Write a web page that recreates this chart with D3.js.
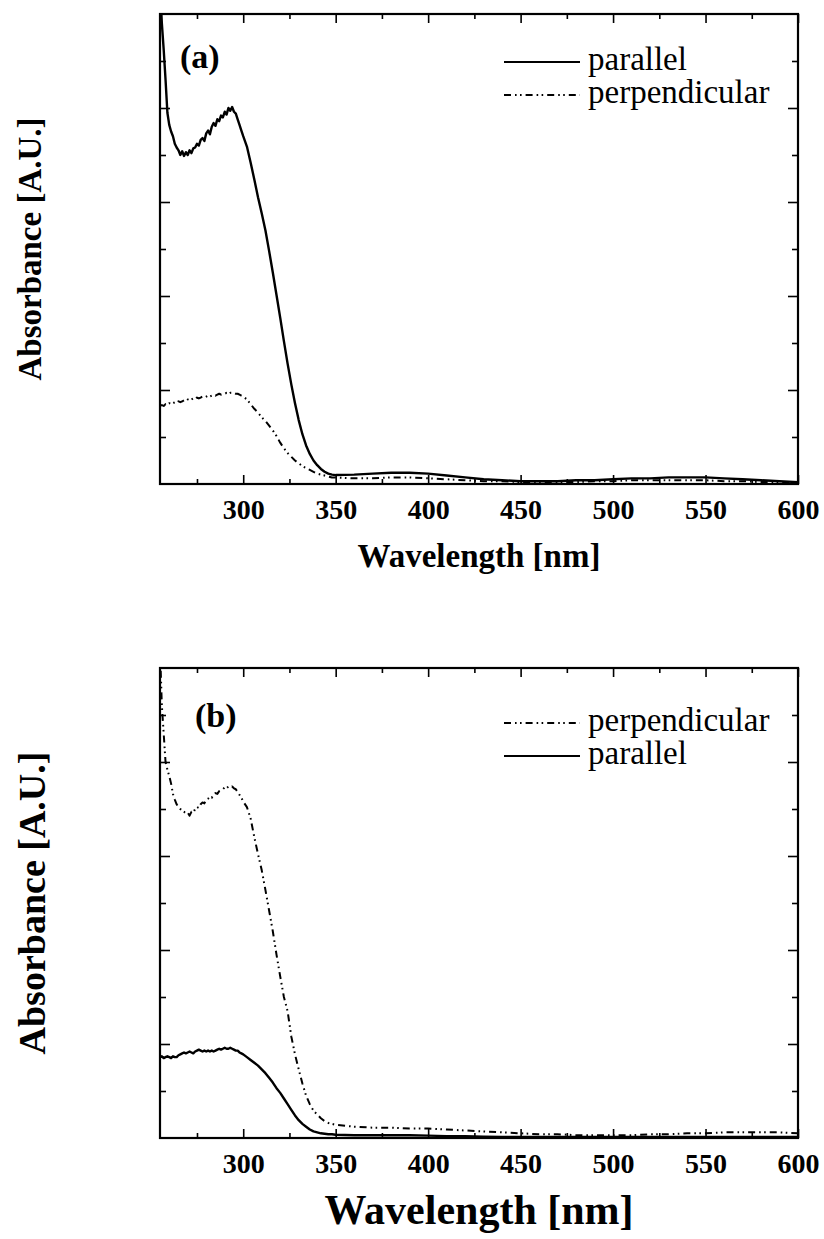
<!DOCTYPE html>
<html>
<head>
<meta charset="utf-8">
<script src="https://cdnjs.cloudflare.com/ajax/libs/d3/7.8.5/d3.min.js"></script>
<style>
  body { margin: 0; background: #fff; }
  svg text { font-family: "Liberation Serif", Times, "Times New Roman", serif; fill: #000; }
  .tick line { stroke: #000; stroke-width: 1.6; }
  .tick text { font-size: 28px; font-weight: bold; }
</style>
</head>
<body>
<div id="chart"></div>
<script>
// wavelength grid shared by all series (nm)
const wavelengths = [
  255,256,257,258,259,260,261,262,263,264,265,266,267,268,269,270,271,272,273,274,
  275,276,277,278,279,280,281,282,283,284,285,286,287,288,289,290,291,292,293,294,
  295,296,297,298,299,300,
  302,304,306,308,310,312,314,316,318,320,322,324,326,328,330,332,334,336,338,340,
  342,344,346,348,350,
  360,370,380,390,400,410,420,430,440,450,460,470,480,490,500,510,520,530,540,550,
  560,570,580,590,600
];

// panel (a)
const parallelA = [
  5.30,4.90,4.62,4.30,3.95,3.82,3.75,3.70,3.62,3.58,3.55,3.50,3.54,3.49,3.53,3.50,3.55,3.52,3.57,3.58,
  3.62,3.60,3.66,3.68,3.65,3.73,3.76,3.72,3.80,3.84,3.81,3.88,3.86,3.92,3.90,3.96,3.93,4.00,3.97,4.01,
  3.96,3.94,3.88,3.82,3.76,3.70,
  3.59,3.42,3.24,3.05,2.88,2.70,2.48,2.25,2.01,1.77,1.52,1.28,1.06,0.86,0.68,0.53,0.41,0.32,0.25,0.20,
  0.16,0.13,0.11,0.10,0.095,
  0.10,0.11,0.12,0.12,0.11,0.09,0.07,0.05,0.04,0.03,0.03,0.03,0.04,0.04,0.05,0.06,0.06,0.07,0.07,0.07,
  0.06,0.05,0.04,0.03,0.02
];
const perpendicularA = [
  0.83,0.84,0.83,0.85,0.84,0.86,0.85,0.86,0.87,0.86,0.88,0.87,0.88,0.89,0.88,0.90,0.89,0.90,0.91,0.90,
  0.92,0.91,0.92,0.93,0.92,0.93,0.94,0.93,0.94,0.95,0.94,0.95,0.96,0.95,0.96,0.96,0.97,0.96,0.97,0.97,
  0.97,0.96,0.96,0.95,0.94,0.93,
  0.90,0.85,0.80,0.76,0.71,0.67,0.62,0.57,0.51,0.44,0.38,0.33,0.29,0.25,0.22,0.19,0.17,0.15,0.13,0.11,
  0.10,0.09,0.08,0.07,0.07,
  0.06,0.06,0.07,0.07,0.06,0.05,0.04,0.03,0.03,0.02,0.02,0.02,0.02,0.03,0.03,0.04,0.04,0.04,0.04,0.04,
  0.03,0.03,0.02,0.02,0.01
];

// panel (b)
const perpendicularB = [
  5.20,4.60,4.30,4.00,3.92,3.85,3.77,3.66,3.60,3.55,3.52,3.50,3.48,3.47,3.45,3.46,3.43,3.47,3.46,3.50,
  3.52,3.51,3.55,3.57,3.56,3.60,3.61,3.63,3.62,3.66,3.67,3.66,3.69,3.70,3.71,3.73,3.72,3.74,3.73,3.74,
  3.72,3.71,3.68,3.65,3.62,3.58,
  3.52,3.40,3.20,3.02,2.85,2.64,2.42,2.20,1.95,1.72,1.50,1.35,1.08,0.89,0.73,0.58,0.45,0.36,0.29,0.25,
  0.21,0.18,0.16,0.15,0.14,
  0.12,0.11,0.11,0.10,0.10,0.09,0.08,0.07,0.06,0.05,0.04,0.04,0.03,0.03,0.03,0.03,0.04,0.04,0.05,0.05,
  0.06,0.06,0.06,0.06,0.05
];
const parallelB = [
  0.86,0.87,0.85,0.86,0.87,0.86,0.85,0.87,0.86,0.86,0.88,0.89,0.90,0.91,0.90,0.91,0.92,0.91,0.90,0.92,
  0.93,0.94,0.93,0.92,0.93,0.92,0.93,0.92,0.93,0.92,0.93,0.94,0.95,0.94,0.95,0.96,0.95,0.95,0.96,0.95,
  0.94,0.93,0.93,0.91,0.90,0.89,
  0.86,0.83,0.80,0.77,0.73,0.69,0.64,0.59,0.53,0.48,0.42,0.36,0.30,0.24,0.19,0.15,0.12,0.09,0.07,0.06,
  0.05,0.045,0.04,0.04,0.035,
  0.03,0.03,0.03,0.03,0.025,0.02,0.02,0.015,0.01,0.01,0.01,0.01,0.01,0.01,0.01,0.01,0.01,0.01,0.01,0.01,
  0.01,0.01,0.01,0.01,0.01
];

const xMajor = [300, 350, 400, 450, 500, 550, 600];
const xMinor = [275, 325, 375, 425, 475, 525, 575];
const yMajor = [1, 2, 3, 4];
const yMinor = [0.5, 1.5, 2.5, 3.5, 4.5];

const W = 824, H = 1239;
const left = 160, right = 798;
const serif = "Liberation Serif, Times, serif";
const dashDot = "7,4,1.6,3.4,1.6,4";

const svg = d3.select("#chart").append("svg")
  .attr("width", W)
  .attr("height", H);

const x = d3.scaleLinear().domain([255, 600]).range([left, right]);

function drawPanel(p) {
  const y = d3.scaleLinear().domain([0, 5]).range([p.bottom, p.top]);
  const g = svg.append("g").attr("font-family", serif);

  g.append("clipPath").attr("id", "clip" + p.id)
    .append("rect")
    .attr("x", left).attr("y", p.top)
    .attr("width", right - left).attr("height", p.bottom - p.top);

  // ticks, all pointing inwards
  g.append("g").attr("transform", "translate(0," + p.bottom + ")")
    .call(d3.axisBottom(x).tickValues(xMajor).tickSize(-9).tickFormat(d3.format("d")))
    .call(a => a.select(".domain").remove())
    .call(a => a.attr("font-family", serif))
    .call(a => a.selectAll("text").attr("dy", "0.9em").attr("y", 10));
  g.append("g").attr("transform", "translate(0," + p.bottom + ")")
    .call(d3.axisBottom(x).tickValues(xMinor).tickSize(-5).tickFormat(""))
    .call(a => a.select(".domain").remove());
  g.append("g").attr("transform", "translate(0," + p.top + ")")
    .call(d3.axisTop(x).tickValues(xMajor).tickSize(-9).tickFormat(""))
    .call(a => a.select(".domain").remove());
  g.append("g").attr("transform", "translate(0," + p.top + ")")
    .call(d3.axisTop(x).tickValues(xMinor).tickSize(-5).tickFormat(""))
    .call(a => a.select(".domain").remove());
  g.append("g").attr("transform", "translate(" + left + ",0)")
    .call(d3.axisLeft(y).tickValues(yMajor).tickSize(-10).tickFormat(""))
    .call(a => a.select(".domain").remove());
  g.append("g").attr("transform", "translate(" + left + ",0)")
    .call(d3.axisLeft(y).tickValues(yMinor).tickSize(-6).tickFormat(""))
    .call(a => a.select(".domain").remove());
  g.append("g").attr("transform", "translate(" + right + ",0)")
    .call(d3.axisRight(y).tickValues(yMajor).tickSize(-10).tickFormat(""))
    .call(a => a.select(".domain").remove());
  g.append("g").attr("transform", "translate(" + right + ",0)")
    .call(d3.axisRight(y).tickValues(yMinor).tickSize(-6).tickFormat(""))
    .call(a => a.select(".domain").remove());

  const line = d3.line()
    .x((d, i) => x(wavelengths[i]))
    .y(d => y(d));

  p.series.forEach(s => {
    g.append("path")
      .datum(s.values)
      .attr("clip-path", "url(#clip" + p.id + ")")
      .attr("fill", "none")
      .attr("stroke", "#000")
      .attr("stroke-width", s.dash ? 2 : 2.4)
      .attr("stroke-dasharray", s.dash ? dashDot : null)
      .attr("stroke-linejoin", "round")
      .attr("d", line);
  });

  // frame
  g.append("rect")
    .attr("x", left).attr("y", p.top)
    .attr("width", right - left).attr("height", p.bottom - p.top)
    .attr("fill", "none").attr("stroke", "#000").attr("stroke-width", 2.2);

  // panel letter
  g.append("text")
    .attr("x", p.letterX).attr("y", p.letterY)
    .attr("font-family", serif)
    .attr("font-size", 34).attr("font-weight", "bold")
    .text(p.letter);

  // legend
  p.series.forEach((s, i) => {
    const ly = p.legendY + i * 33;
    g.append("line")
      .attr("x1", 504).attr("x2", 580)
      .attr("y1", ly - 8).attr("y2", ly - 8)
      .attr("stroke", "#000")
      .attr("stroke-width", 2)
      .attr("stroke-dasharray", s.dash ? dashDot : null);
    g.append("text")
      .attr("x", 588).attr("y", ly)
      .attr("font-family", serif)
      .attr("font-size", 33)
      .text(s.name);
  });

  // axis titles
  g.append("text")
    .attr("x", (left + right) / 2).attr("y", p.xTitleY)
    .attr("text-anchor", "middle")
    .attr("font-family", serif)
    .attr("font-size", p.xTitleSize).attr("font-weight", "bold")
    .text("Wavelength [nm]");
  g.append("text")
    .attr("transform", "translate(" + p.yTitleX + "," + ((p.top + p.bottom) / 2) + ") rotate(-90)")
    .attr("text-anchor", "middle")
    .attr("font-family", serif)
    .attr("font-size", p.yTitleSize).attr("font-weight", "bold")
    .text("Absorbance [A.U.]");
}

drawPanel({
  id: "a", top: 14, bottom: 484,
  letter: "(a)", letterX: 180, letterY: 68,
  legendY: 70,
  xTitleY: 567, xTitleSize: 33,
  yTitleX: 41, yTitleSize: 33,
  series: [
    { name: "parallel", values: parallelA, dash: false },
    { name: "perpendicular", values: perpendicularA, dash: true }
  ]
});

drawPanel({
  id: "b", top: 668, bottom: 1138,
  letter: "(b)", letterX: 195, letterY: 727,
  legendY: 731,
  xTitleY: 1224, xTitleSize: 42,
  yTitleX: 45, yTitleSize: 38,
  series: [
    { name: "perpendicular", values: perpendicularB, dash: true },
    { name: "parallel", values: parallelB, dash: false }
  ]
});
</script>
</body>
</html>
